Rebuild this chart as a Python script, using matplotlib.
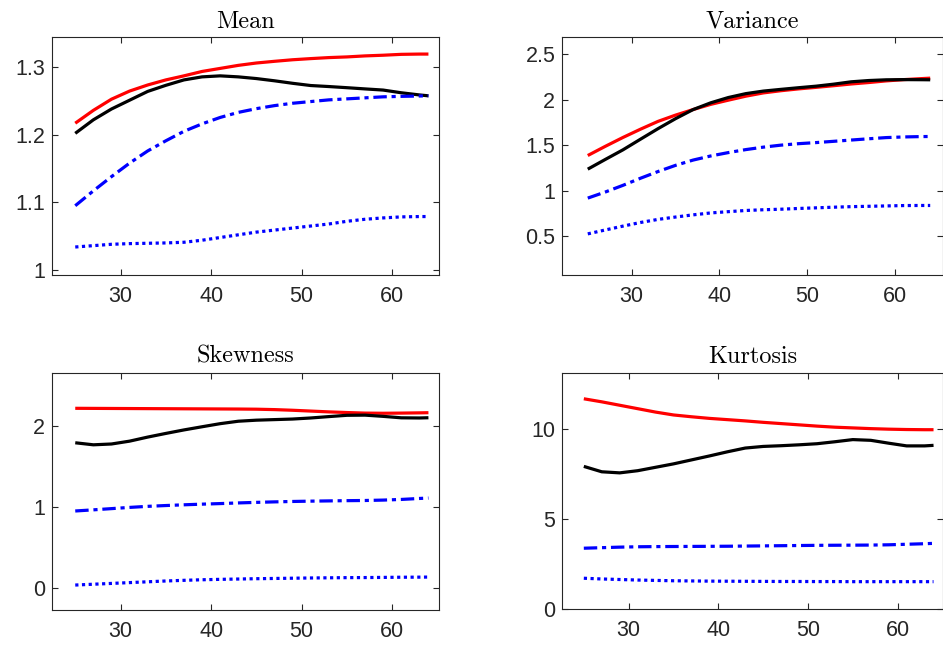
import numpy as np
import matplotlib
matplotlib.use('Agg')
import matplotlib.pyplot as plt
from matplotlib.ticker import FuncFormatter

# ages on the x axis
age = [25, 27, 29, 31, 33, 35, 37, 39, 41, 43, 45, 47, 49, 51, 53, 55, 57, 59, 61, 63, 64]

# Mean
mean_red = [1.217, 1.236, 1.2525, 1.2645, 1.2735, 1.281, 1.287, 1.2935, 1.298, 1.3025, 1.306,
            1.3085, 1.3108, 1.3125, 1.314, 1.315, 1.3165, 1.3175, 1.3188, 1.3192, 1.3192]
mean_black = [1.202, 1.222, 1.238, 1.251, 1.264, 1.273, 1.281, 1.2855, 1.287, 1.2855, 1.283,
              1.2797, 1.276, 1.2727, 1.2712, 1.2695, 1.2677, 1.266, 1.262, 1.2588, 1.2575]
mean_dash = [1.095, 1.117, 1.138, 1.158, 1.176, 1.191, 1.205, 1.216, 1.2255, 1.233, 1.2385,
             1.243, 1.2465, 1.249, 1.2515, 1.253, 1.2545, 1.256, 1.2567, 1.2572, 1.2575]
mean_dot = [1.034, 1.036, 1.038, 1.039, 1.0395, 1.040, 1.041, 1.044, 1.048, 1.052, 1.056,
            1.059, 1.062, 1.065, 1.068, 1.072, 1.075, 1.077, 1.0785, 1.079, 1.079]

# Variance
var_red = [1.388, 1.489, 1.586, 1.677, 1.763, 1.832, 1.893, 1.950, 1.996, 2.040, 2.076,
           2.100, 2.120, 2.137, 2.155, 2.174, 2.190, 2.208, 2.222, 2.233, 2.238]
var_black = [1.238, 1.345, 1.450, 1.567, 1.683, 1.793, 1.893, 1.967, 2.025, 2.068, 2.096,
             2.115, 2.133, 2.150, 2.172, 2.198, 2.212, 2.220, 2.222, 2.221, 2.220]
var_dash = [0.920, 0.987, 1.060, 1.138, 1.212, 1.280, 1.338, 1.383, 1.420, 1.453, 1.480,
            1.502, 1.518, 1.530, 1.544, 1.558, 1.572, 1.585, 1.592, 1.596, 1.597]
var_dot = [0.527, 0.570, 0.612, 0.652, 0.686, 0.712, 0.736, 0.757, 0.771, 0.784, 0.792,
           0.798, 0.806, 0.813, 0.820, 0.826, 0.830, 0.834, 0.838, 0.839, 0.839]

# Skewness
skew_red = [2.214, 2.213, 2.212, 2.211, 2.210, 2.209, 2.208, 2.207, 2.206, 2.205, 2.203,
            2.198, 2.190, 2.180, 2.170, 2.162, 2.155, 2.153, 2.155, 2.158, 2.160]
skew_black = [1.790, 1.765, 1.775, 1.810, 1.860, 1.905, 1.948, 1.987, 2.025, 2.055, 2.068,
              2.075, 2.082, 2.095, 2.112, 2.128, 2.130, 2.115, 2.097, 2.095, 2.098]
skew_dash = [0.951, 0.965, 0.980, 0.995, 1.008, 1.018, 1.027, 1.035, 1.042, 1.050, 1.057,
             1.063, 1.068, 1.072, 1.075, 1.078, 1.080, 1.085, 1.093, 1.105, 1.110]
skew_dot = [0.040, 0.050, 0.060, 0.070, 0.080, 0.090, 0.098, 0.105, 0.110, 0.114, 0.118,
            0.121, 0.124, 0.127, 0.129, 0.131, 0.132, 0.134, 0.136, 0.137, 0.138]

# Kurtosis
kurt_red = [11.69, 11.52, 11.33, 11.14, 10.95, 10.79, 10.69, 10.60, 10.53, 10.46, 10.38,
            10.31, 10.24, 10.17, 10.11, 10.07, 10.03, 10.00, 9.98, 9.97, 9.97]
kurt_black = [7.93, 7.63, 7.57, 7.69, 7.88, 8.07, 8.29, 8.51, 8.74, 8.95, 9.04,
              9.08, 9.13, 9.19, 9.30, 9.42, 9.38, 9.22, 9.07, 9.07, 9.10]
kurt_dash = [3.38, 3.41, 3.44, 3.46, 3.47, 3.475, 3.48, 3.485, 3.49, 3.50, 3.51,
             3.52, 3.53, 3.54, 3.545, 3.55, 3.555, 3.57, 3.60, 3.63, 3.65]
kurt_dot = [1.71, 1.67, 1.64, 1.61, 1.59, 1.57, 1.56, 1.55, 1.545, 1.54, 1.535,
            1.53, 1.53, 1.525, 1.525, 1.52, 1.52, 1.52, 1.52, 1.52, 1.52]

W, H = 943, 647
fig = plt.figure(figsize=(W / 100, H / 100), dpi=100)

def px_rect(l, r, t, b):
    return [l / W, 1 - b / H, (r - l) / W, (b - t) / H]

panels = [
    ('Mean', px_rect(51.7, 439.3, 37.3, 275), (mean_red, mean_black, mean_dash, mean_dot),
     (22.4, 65.2), (0.9926, 1.344), [1, 1.1, 1.2, 1.3]),
    ('Variance', px_rect(562.3, 942.5, 37.3, 275), (var_red, var_black, var_dash, var_dot),
     (22.1, 65.4), (0.075, 2.687), [0.5, 1, 1.5, 2, 2.5]),
    ('Skewness', px_rect(51.7, 439.3, 372.7, 610), (skew_red, skew_black, skew_dash, skew_dot),
     (22.4, 65.2), (-0.267, 2.652), [0, 1, 2]),
    ('Kurtosis', px_rect(562.3, 942.5, 372.7, 609), (kurt_red, kurt_black, kurt_dash, kurt_dot),
     (22.6, 65.0), (0, 13.14), [0, 5, 10]),
]

ink = '#262626'
lw = 2.3
for title, rect, (red, black, dash, dot), xl, yl, yt in panels:
    ax = fig.add_axes(rect)
    ax.plot(age, red, color='#ff0000', lw=lw, solid_capstyle='butt', solid_joinstyle='round')
    ax.plot(age, black, color='black', lw=lw, solid_capstyle='butt', solid_joinstyle='round')
    ax.plot(age, dash, color='#0000ff', lw=lw, dashes=(4.2, 1.5, 1.3, 1.5), dash_capstyle='butt')
    ax.plot(age, dot, color='#0000ff', lw=lw, dashes=(1, 1.1), dash_capstyle='butt')
    ax.set_xlim(xl)
    ax.set_ylim(yl)
    ax.set_xticks([30, 40, 50, 60])
    ax.set_yticks(yt)
    ax.yaxis.set_major_formatter(FuncFormatter(lambda v, p: '%g' % v))
    ax.tick_params(direction='in', top=True, right=True, length=4, width=0.8,
                   color=ink, labelcolor=ink, labelsize=15.5)
    ax.tick_params(axis='x', pad=8)
    ax.tick_params(axis='y', pad=5)
    for lab in ax.get_xticklabels() + ax.get_yticklabels():
        lab.set_fontfamily('Liberation Sans')
    for s in ax.spines.values():
        s.set_color(ink)
        s.set_linewidth(0.8)
    ax.set_title(title, fontfamily='cmr10', fontsize=17.5, pad=7, color='black')

fig.savefig('out.png', dpi=100)
